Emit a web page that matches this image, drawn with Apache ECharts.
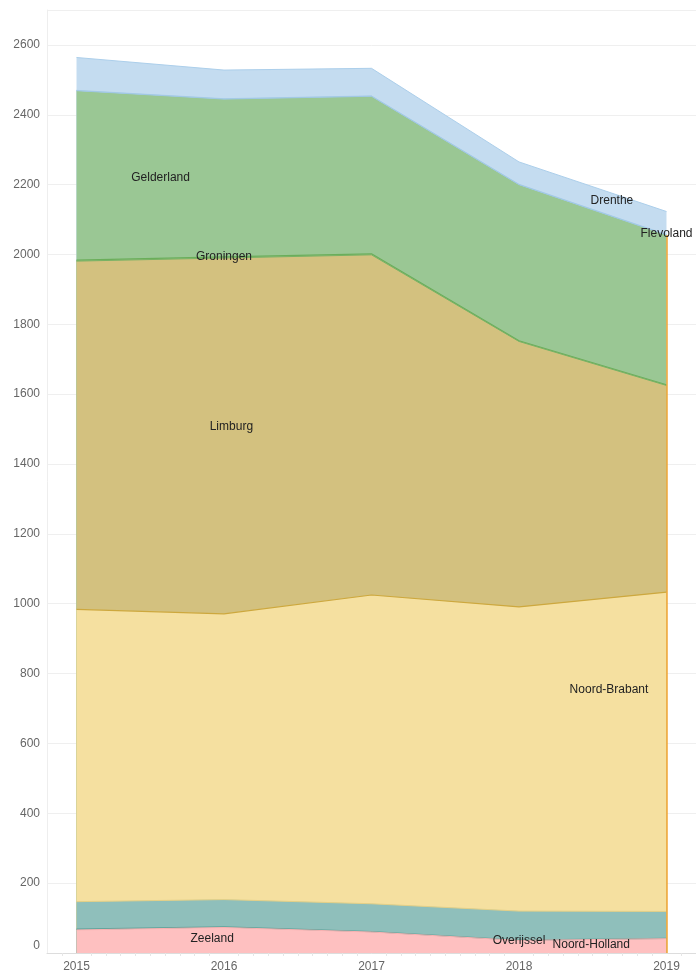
<!DOCTYPE html>
<html><head><meta charset="utf-8">
<script src="https://cdn.jsdelivr.net/npm/echarts@6/dist/echarts.min.js"></script>
<style>html,body{margin:0;padding:0;background:#fff}#c{width:696px;height:974px}</style>
</head><body><div id="c"></div>
<script>
// ---- data ----
const years = [2015, 2016, 2017, 2018, 2019];
const zeeland      = [66, 73, 60, 36, 41];
const overijssel   = [2, 2, 1, 1, 1];
const noordHolland = [79, 78, 80, 83, 77];
const noordBrabant = [837, 818, 884, 871, 914];
const limburg      = [997, 1019, 974, 760, 592];
const groningen    = [3, 3, 3, 2, 2];
const gelderland   = [485, 452, 451, 447, 429];
const flevoland    = [1, 1, 1, 1, 1];
const drenthe      = [94, 82, 79, 64, 66];
const yTickLabels  = [0, 200, 400, 600, 800, 1000, 1200, 1400, 1600, 1800, 2000, 2200, 2400, 2600];
// label anchors in data units [year, value]
const labelNames   = ['Gelderland', 'Groningen', 'Limburg', 'Drenthe', 'Flevoland', 'Noord-Brabant', 'Zeeland', 'Overijssel', 'Noord-Holland'];
const labelYears   = [2015.57, 2016.0, 2016.05, 2018.63, 2019.0, 2018.61, 2015.92, 2018.0, 2018.49];
const labelValues  = [2219, 1994, 1507, 2154, 2060, 755, 40, 36, 24];

// ---- build ----
const font = 'Liberation Sans, Arial, sans-serif';
// stacking order, bottom to top
const layers = [
  { name: 'Zeeland',       values: zeeland,      fill: 'rgb(254,192,192)', line: 'rgb(250,178,178)', w: 1 },
  { name: 'Overijssel',    values: overijssel,   fill: 'rgb(120,178,170)', line: 'rgb(95,163,155)',  w: 1.3 },
  { name: 'Noord-Holland', values: noordHolland, fill: 'rgb(143,191,187)', line: 'rgb(228,208,135)', w: 1 },
  { name: 'Noord-Brabant', values: noordBrabant, fill: 'rgb(245,224,160)', line: 'rgb(205,168,62)',  w: 1.2 },
  { name: 'Limburg',       values: limburg,      fill: 'rgb(211,193,127)', line: 'rgb(120,178,100)', w: 1 },
  { name: 'Groningen',     values: groningen,    fill: 'rgb(150,197,144)', line: 'rgb(106,174,90)',  w: 1.2 },
  { name: 'Gelderland',    values: gelderland,   fill: 'rgb(154,199,148)', line: 'rgb(160,200,228)', w: 1 },
  { name: 'Flevoland',     values: flevoland,    fill: 'rgb(196,220,240)', line: 'rgb(170,206,234)', w: 1 },
  { name: 'Drenthe',       values: drenthe,      fill: 'rgb(196,220,240)', line: 'rgb(172,207,235)', w: 1 }
];
// cumulative tops through the stack
let running = years.map(() => 0);
layers.forEach(l => {
  running = running.map((v, i) => v + l.values[i]);
  l.top = running.slice();
});
// draw from top layer down so lower layers cover the upper fills
const series = layers.slice().reverse().map(l => ({
  name: l.name, type: 'line', symbol: 'none',
  data: years.map((y, i) => [y, l.top[i]]),
  lineStyle: { color: l.line, width: l.w },
  areaStyle: { color: l.fill, opacity: 1, origin: 'start' },
  emphasis: { disabled: true }, silent: true
}));
const gelderlandTop = layers.find(l => l.name === 'Gelderland').top;
const lastSeries = series[series.length - 1];
lastSeries.markPoint = {
  silent: true, animation: false,
  symbol: 'circle', symbolSize: 1, itemStyle: { color: 'rgba(0,0,0,0)' },
  label: { show: true, position: 'inside', color: '#222', fontSize: 12, fontFamily: font,
           formatter: p => p.name },
  data: labelNames.map((n, i) => ({ name: n, coord: [labelYears[i], labelValues[i]] }))
};
lastSeries.markLine = {
  silent: true, animation: false, symbol: ['none', 'none'],
  label: { show: false },
  lineStyle: { color: 'rgb(242,165,50)', width: 1.5, type: 'solid' },
  data: [[{ coord: [years[4], 0] }, { coord: [years[4], gelderlandTop[4]] }]]
};

const chart = echarts.init(document.getElementById('c'), null, { renderer: 'canvas' });
chart.setOption({
  animation: false,
  backgroundColor: '#fff',
  textStyle: { fontFamily: font },
  grid: { left: 47, right: 0, top: 10, bottom: 21, containLabel: false },
  xAxis: {
    type: 'value', min: 2014.8, max: 2019.2,
    axisLine: { show: true, lineStyle: { color: '#ddd', width: 1 } },
    axisTick: { show: false },
    minorTick: { show: true, splitNumber: 10, length: 3, lineStyle: { color: '#e6e6e6' } },
    splitLine: { show: false },
    axisLabel: { customValues: years, formatter: v => String(v), color: '#666', fontSize: 12, margin: 8, fontFamily: font }
  },
  yAxis: {
    type: 'value', min: 0, max: 2700, interval: 200,
    axisLine: { show: true, lineStyle: { color: '#eee' } },
    axisTick: { show: false },
    splitLine: { show: true, lineStyle: { color: '#efefef' } },
    axisLabel: {
      customValues: yTickLabels,
      color: '#666', fontSize: 12, margin: 7, fontFamily: font,
      formatter: v => v === 0 ? '{z|0}' : String(v),
      rich: { z: { padding: [0, 0, 14, 0], color: '#666', fontSize: 12, fontFamily: font } }
    }
  },
  series
});
</script></body></html>
